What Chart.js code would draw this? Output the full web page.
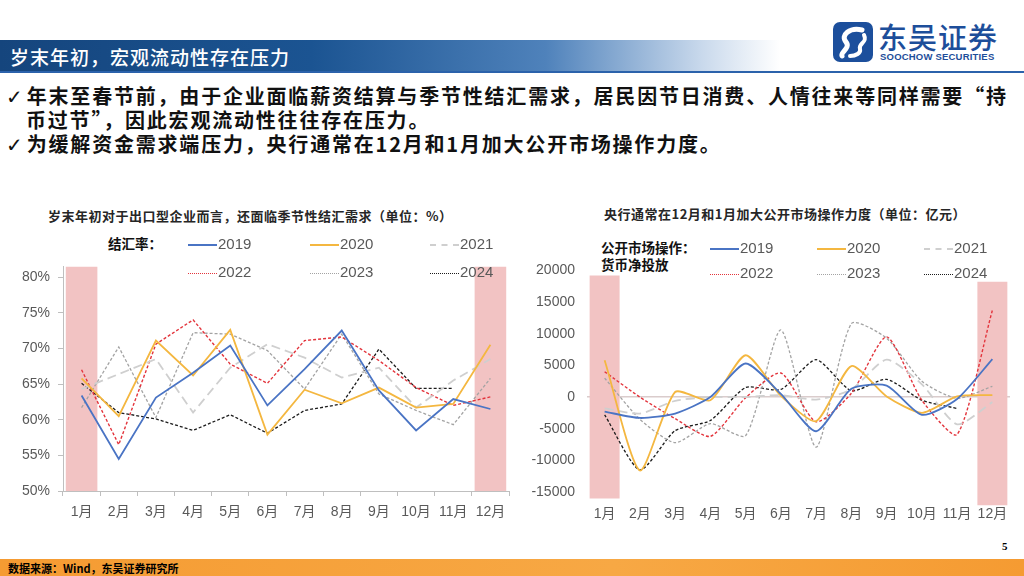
<!DOCTYPE html>
<html lang="zh-CN">
<head>
<meta charset="utf-8">
<script src="https://cdn.jsdelivr.net/npm/chart.js@4.4.0/dist/chart.umd.min.js"></script>
<style>
  html, body { margin: 0; padding: 0; }
  body {
    width: 1024px; height: 576px; position: relative; overflow: hidden;
    background: #fff; font-family: "Noto Sans CJK SC", sans-serif; color: #000;
  }
  .abs { position: absolute; white-space: nowrap; }
  #titlebar {
    left: 0; top: 40px; width: 780px; height: 31px;
    background: linear-gradient(90deg, #15457d 0%, #1b5492 40%, #4f82bb 70%, #c9d9ec 90%, #ffffff 100%);
  }
  #titlebar span { position: absolute; left: 10px; top: 3px; color: #fff; font-size: 19px; font-weight: 500; letter-spacing: 1px; }
  #rule { left: 0; top: 71px; width: 1024px; height: 2px; background: #2b62ab; }
  .bullet { font-size: 20px; font-weight: 600; letter-spacing: 1.8px; line-height: 24px; color: #111; }
  .chk { font-family: "DejaVu Sans", sans-serif; font-weight: 400; margin-right: 4px; letter-spacing: 0; }
  .ctitle { font-size: 13px; font-weight: 600; color: #262626; letter-spacing: 0.5px; }
  .lg { font-family: "Liberation Sans", sans-serif; font-size: 15px; color: #595959; line-height: 18px; }
  .lg i { display: inline-block; width: 29px; height: 0; vertical-align: middle; margin-right: 1px; }
  .lgname { font-size: 13.5px; font-weight: 700; color: #111; line-height: 17px; }
  .wrap { position: absolute; }
  #footer { left: 0; top: 559px; width: 1024px; height: 17px; background: linear-gradient(90deg, #f59b32, #f7a844 60%, #f59b32); }
  #footer span { position: absolute; left: 8px; top: 1px; font-size: 11px; font-weight: 700; font-family: "Noto Sans CJK SC", serif; }
</style>
</head>
<body>
<div class="abs" id="titlebar"><span>岁末年初，宏观流动性存在压力</span></div>
<div class="abs" id="rule"></div>

<!-- logo -->
<svg class="abs" style="left:832px;top:21px" width="42" height="42" viewBox="0 0 42 42">
  <rect x="1" y="1" width="40" height="40" rx="7" fill="#1c4f9c"/>
  <path d="M30 9 C18 6 8 14 14 21 C19 27 8 31 10 35" stroke="#fff" stroke-width="5" fill="none" stroke-linecap="round"/>
  <path d="M32 14 C36 22 26 22 28 28 C29 32 24 35 18 35" stroke="#fff" stroke-width="4" fill="none" stroke-linecap="round"/>
</svg>
<div class="abs" style="left:878px;top:15px;font-size:29px;color:#1d4e9a;font-weight:500;letter-spacing:1px;">东吴证券</div>
<div class="abs" style="left:880px;top:51px;font-size:9.5px;color:#1d4e9a;font-weight:700;font-family:'Liberation Sans',sans-serif;letter-spacing:0.2px;">SOOCHOW SECURITIES</div>

<div class="abs bullet" style="left:6px;top:84px;"><span class="chk">✓</span>年末至春节前，由于企业面临薪资结算与季节性结汇需求，居民因节日消费、人情往来等同样需要“持</div>
<div class="abs bullet" style="left:26px;top:108px;">币过节”，因此宏观流动性往往存在压力。</div>
<div class="abs bullet" style="left:6px;top:132px;"><span class="chk">✓</span>为缓解资金需求端压力，央行通常在12月和1月加大公开市场操作力度。</div>

<div class="abs ctitle" style="left:48px;top:206px;">岁末年初对于出口型企业而言，还面临季节性结汇需求（单位：%）</div>
<div class="abs ctitle" style="left:604px;top:204px;">央行通常在12月和1月加大公开市场操作力度（单位：亿元）</div>

<div class="abs lgname" style="left:108px;top:235px;">结汇率：</div>
<div class="abs lgname" style="left:601px;top:239px;">公开市场操作：<br>货币净投放</div>

<div class="wrap" style="left:0;top:250px;width:520px;height:280px;"><canvas id="fxChart"></canvas></div>
<div class="wrap" style="left:512px;top:250px;width:512px;height:280px;"><canvas id="omoChart"></canvas></div>

<div class="abs" id="footer"><span>数据来源：Wind，东吴证券研究所</span></div>
<div class="abs" style="left:1002px;top:540px;font-size:11px;font-weight:700;font-family:'Liberation Serif',serif;">5</div>

<script>
// categories
const months = ['1月', '2月', '3月', '4月', '5月', '6月', '7月', '8月', '9月', '10月', '11月', '12月'];
const years = ['2019', '2020', '2021', '2022', '2023', '2024'];

// 结汇率 (%)
const fx2019 = [63.4, 54.5, 63.1, 66.6, 70.4, 62.0, 67.1, 72.5, 64.1, 58.5, 62.9, 61.5];
const fx2020 = [65.8, 60.5, 71.1, 66.2, 72.6, 57.9, 64.2, 62.3, 64.5, 61.7, 62.2, 70.5];
const fx2021 = [64.3, 66.4, 68.5, 61.0, 67.3, 70.6, 68.7, 65.9, 67.3, 61.7, 65.5, 68.5];
const fx2022 = [67.0, 56.5, 70.6, 74.0, 67.8, 65.1, 71.1, 71.6, 68.3, 64.5, 62.0, 63.2];
const fx2023 = [61.7, 70.2, 60.3, 72.2, 72.0, 69.7, 64.3, 72.0, 63.6, 61.3, 59.3, 65.8];
const fx2024 = [65.1, 61.0, 60.1, 58.5, 60.7, 58.1, 61.3, 62.2, 69.9, 64.4, 64.4, null];
const fxTicks = [50, 55, 60, 65, 70, 75, 80];
const fxBands = [[50, 81.5], null, null, null, null, null, null, null, null, null, null, [50, 81.5]];

// 公开市场操作：货币净投放 (亿元)
const omo2019 = [-2300, -3300, -2600, 0, 5300, 500, -5400, 1300, 1800, -2800, -300, 6000];
const omo2020 = [5800, -11600, 800, -500, 6600, 200, -3800, 4900, 100, -2500, 100, 300];
const omo2021 = [-1800, -2600, -600, 0, 0, 300, -400, 1200, 5900, 2000, -4300, -800];
const omo2022 = [4000, 0, -3400, -6200, -100, 3800, -3900, 600, 9500, -500, -5900, 13700];
const omo2023 = [3000, -3500, -7200, -4200, -6100, 10600, -7900, 11600, 9300, 2500, -200, 1700];
const omo2024 = [-2800, -11500, -5300, -3700, 1500, 1200, 5900, 1000, 2800, -500, -1800, null];
const omoTicks = [-15000, -10000, -5000, 0, 5000, 10000, 15000, 20000];
const omoBands = [[-16000, 19200], null, null, null, null, null, null, null, null, null, null, [-17100, 18200]];

const styles = [
  { color: '#4a74c4', dash: [], width: 1.8 },
  { color: '#f4b740', dash: [], width: 1.8 },
  { color: '#cfcfcf', dash: [9, 5], width: 1.8 },
  { color: '#e3343c', dash: [3, 2], width: 1.4 },
  { color: '#a3a3a3', dash: [3, 2], width: 1.3 },
  { color: '#1c1c1c', dash: [3, 2], width: 1.3 }
];

const tickFont = { family: '"Liberation Sans", "Noto Sans CJK SC", sans-serif', size: 14 };

function lineSets(series, tension) {
  return series.map((data, i) => ({
    type: 'line',
    label: years[i],
    data,
    borderColor: styles[i].color,
    borderWidth: styles[i].width,
    borderDash: styles[i].dash,
    pointRadius: 0,
    tension,
    fill: false,
    order: 1
  }));
}

function bandSet(data) {
  return {
    type: 'bar',
    label: 'band',
    data,
    backgroundColor: '#f2c3c3',
    borderWidth: 0,
    barPercentage: 0.85,
    categoryPercentage: 1,
    grouped: false,
    order: 10
  };
}

// HTML legend, three columns and two rows
function legend(xs, ys) {
  years.forEach((y, i) => {
    const d = document.createElement('div');
    d.className = 'abs lg';
    d.style.left = xs[i % 3] + 'px';
    d.style.top = (ys[Math.floor(i / 3)] - 9) + 'px';
    const s = styles[i];
    const border = s.dash.length ? (s.dash[0] > 5 ? 'dashed' : 'dotted') : 'solid';
    d.innerHTML = `<i style="border-top:${s.width > 1.5 ? 2 : 1.5}px ${border} ${s.color}"></i>${y}`;
    document.body.appendChild(d);
  });
}
legend([188, 310, 430], [244, 272]);
legend([710, 817, 924], [248, 273]);

Chart.defaults.devicePixelRatio = 1;
Chart.defaults.animation = false;

new Chart(document.getElementById('fxChart'), {
  data: {
    labels: months,
    datasets: [bandSet(fxBands), ...lineSets([fx2019, fx2020, fx2021, fx2022, fx2023, fx2024], 0)]
  },
  options: {
    responsive: true,
    maintainAspectRatio: false,
    layout: { padding: { top: 15, right: 11, left: 0, bottom: 0 } },
    plugins: { legend: { display: false }, tooltip: { enabled: false } },
    scales: {
      x: {
        offset: true,
        grid: { display: true, offset: true, drawOnChartArea: false, tickLength: 5, color: '#bfbfbf' },
        border: { display: true, color: '#bfbfbf' },
        ticks: { font: tickFont, color: '#595959', padding: 8, maxRotation: 0, autoSkip: false },
        afterFit: (s) => { s.height = 39; }
      },
      y: {
        min: 50,
        max: 81.5,
        afterBuildTicks: (s) => { s.ticks = fxTicks.map((v) => ({ value: v })); },
        grid: { drawOnChartArea: false, tickLength: 5, color: '#bfbfbf' },
        border: { display: true, color: '#bfbfbf' },
        ticks: { font: tickFont, color: '#595959', padding: 8, callback: (v) => v + '%' },
        afterFit: (s) => { s.width = 63; }
      }
    }
  }
});

new Chart(document.getElementById('omoChart'), {
  data: {
    labels: months,
    datasets: [bandSet(omoBands), ...lineSets([omo2019, omo2020, omo2021, omo2022, omo2023, omo2024], 0.22)]
  },
  options: {
    responsive: true,
    maintainAspectRatio: false,
    layout: { padding: { top: 16, right: 14, left: 0, bottom: 0 } },
    plugins: { legend: { display: false }, tooltip: { enabled: false } },
    scales: {
      x: {
        offset: true,
        grid: { display: false, drawTicks: false },
        border: { display: false },
        ticks: { font: tickFont, color: '#595959', padding: 0, maxRotation: 0, autoSkip: false },
        afterFit: (s) => { s.height = 24; }
      },
      y: {
        min: -17200,
        max: 20000,
        afterBuildTicks: (s) => { s.ticks = omoTicks.map((v) => ({ value: v })); },
        grid: {
          drawTicks: false,
          lineWidth: 1.5,
          color: (c) => (c.tick && c.tick.value === 0 ? '#dacccc' : 'rgba(0,0,0,0)')
        },
        border: { display: false },
        ticks: { font: tickFont, color: '#595959', padding: 12, callback: (v) => String(v) },
        afterFit: (s) => { s.width = 75; }
      }
    }
  }
});
</script>
</body>
</html>
